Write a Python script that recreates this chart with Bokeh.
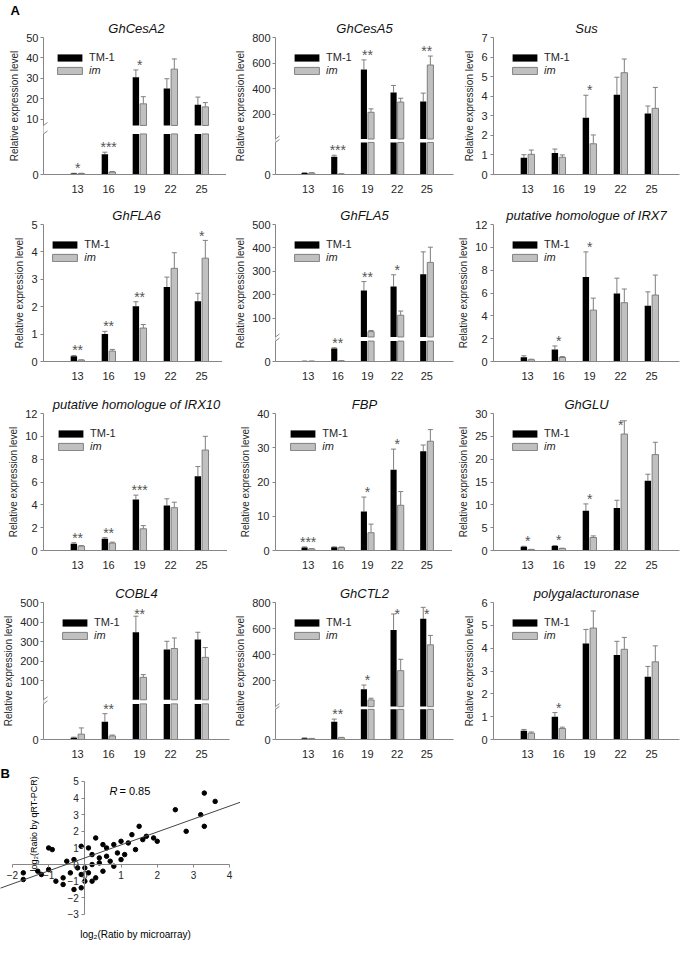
from bokeh.plotting import figure
from bokeh.models import (ColumnDataSource, Whisker, TeeHead, Legend, LegendItem, Label, Title,
                          Arrow, FixedTicker, SingleIntervalTicker, Range1d, Slope)
from bokeh.layouts import gridplot, column
from bokeh.core.properties import value
from bokeh.embed import file_html
from bokeh.resources import INLINE

FONT = "Liberation Sans"

# ---------------- data ----------------
days = [13, 16, 19, 22, 25]

cesa2_tm1 = [0.05, 1.0, 30.5, 25.0, 17.0]
cesa2_tm1_err = [0.01, 0.1, 3.6, 4.8, 3.8]
cesa2_im = [0.05, 0.12, 17.5, 34.5, 16.0]
cesa2_im_err = [0.01, 0.03, 3.5, 5.0, 2.1]
cesa2_sig = ["*", "***", "*", "", ""]

cesa5_tm1 = [0.08, 1.0, 550, 370, 300]
cesa5_tm1_err = [0.02, 0.08, 75, 55, 65]
cesa5_im = [0.08, 0.03, 215, 295, 585]
cesa5_im_err = [0.02, 0.01, 27, 30, 70]
cesa5_sig = ["", "***", "**", "", "**"]

sus_tm1 = [0.85, 1.1, 2.9, 4.07, 3.12]
sus_tm1_err = [0.16, 0.2, 1.15, 0.9, 0.38]
sus_im = [1.03, 0.88, 1.57, 5.2, 3.38]
sus_im_err = [0.22, 0.12, 0.45, 0.7, 1.07]
sus_sig = ["", "", "*", "", ""]

fla6_tm1 = [0.19, 1.0, 2.02, 2.72, 2.2]
fla6_tm1_err = [0.03, 0.1, 0.16, 0.36, 0.29]
fla6_im = [0.05, 0.38, 1.22, 3.4, 3.77]
fla6_im_err = [0.01, 0.06, 0.13, 0.57, 0.65]
fla6_sig = ["**", "**", "**", "", "*"]

fla5_tm1 = [0.03, 1.0, 218, 235, 287]
fla5_tm1_err = [0.01, 0.05, 38, 50, 96]
fla5_im = [0.02, 0.05, 42, 112, 338]
fla5_im_err = [0.01, 0.01, 5, 18, 65]
fla5_sig = ["", "**", "**", "*", ""]

irx7_tm1 = [0.38, 1.06, 7.4, 5.95, 4.88]
irx7_tm1_err = [0.12, 0.3, 2.2, 1.35, 1.22]
irx7_im = [0.15, 0.35, 4.5, 5.15, 5.82]
irx7_im_err = [0.05, 0.08, 1.05, 1.2, 1.75]
irx7_sig = ["", "*", "*", "", ""]

irx10_tm1 = [0.6, 1.02, 4.47, 3.95, 6.5]
irx10_tm1_err = [0.08, 0.1, 0.38, 0.58, 0.85]
irx10_im = [0.38, 0.65, 1.9, 3.75, 8.8]
irx10_im_err = [0.05, 0.08, 0.28, 0.48, 1.2]
irx10_sig = ["**", "**", "***", "", ""]

fbp_tm1 = [0.9, 0.95, 11.4, 23.6, 29.0]
fbp_tm1_err = [0.15, 0.12, 4.2, 6.0, 1.8]
fbp_im = [0.45, 0.85, 5.2, 13.2, 31.9]
fbp_im_err = [0.1, 0.15, 2.5, 4.0, 3.4]
fbp_sig = ["***", "", "*", "*", ""]

glu_tm1 = [0.8, 1.0, 8.7, 9.3, 15.3]
glu_tm1_err = [0.12, 0.1, 1.5, 1.7, 1.4]
glu_im = [0.2, 0.42, 2.85, 25.5, 21.0]
glu_im_err = [0.05, 0.08, 0.35, 2.9, 2.7]
glu_sig = ["*", "*", "*", "*", ""]

cobl4_tm1 = [0.1, 1.0, 348, 260, 311]
cobl4_tm1_err = [0.03, 0.45, 82, 42, 37]
cobl4_im = [0.3, 0.2, 118, 265, 220]
cobl4_im_err = [0.35, 0.05, 14, 54, 50]
cobl4_sig = ["", "**", "**", "", ""]

ctl2_tm1 = [0.07, 1.0, 135, 590, 675]
ctl2_tm1_err = [0.02, 0.15, 33, 122, 88]
ctl2_im = [0.05, 0.1, 54, 278, 476]
ctl2_im_err = [0.01, 0.02, 13, 87, 72]
ctl2_sig = ["", "**", "*", "*", "*"]

pg_tm1 = [0.38, 1.0, 4.2, 3.7, 2.75]
pg_tm1_err = [0.06, 0.18, 0.62, 0.6, 0.45]
pg_im = [0.28, 0.48, 4.88, 3.95, 3.4]
pg_im_err = [0.05, 0.06, 0.75, 0.52, 0.7]
pg_sig = ["", "*", "", "", ""]

# panel B: log2 ratios
scat_x = [3.3, 3.6, 3.2, 3.3, 2.5, 2.0, 1.5, 1.3, 1.9, 1.6, 1.7, 1.2, 1.0, 0.8, 0.6, 0.5,
          0.3, 0.1, -0.1, 0.2, 0.6, 0.9, 1.1, 1.4, 0.7, 0.4, 0.2, 0.0, -0.2, -0.3, -0.5,
          -0.4, -0.1, 0.1, 0.3, -0.6, -0.8, -1.0, -1.3, -1.7, -1.2, -0.6, -0.3, -0.1, 0.2,
          0.0, -1.0, -0.9, -1.7, 0.5, 0.8, 1.0, 0.4, 2.8]
scat_y = [4.3, 3.8, 3.0, 2.3, 3.3, 1.4, 2.3, 1.8, 1.6, 1.5, 1.7, 1.3, 1.4, 1.2, 1.0, 1.2,
          1.6, 1.0, 1.1, 0.6, 0.5, 0.7, 0.6, 0.9, 0.2, 0.1, 0.0, -0.2, -0.2, 0.3, 0.2,
          -0.5, -0.6, -0.5, -0.8, -0.8, -1.0, -0.3, -0.4, -0.5, -0.6, -1.2, -1.5, -1.4, -1.0,
          -1.0, 1.0, 0.9, -0.9, -0.4, -0.1, 0.3, 0.4, 2.0]
fit_slope = 0.78
fit_intercept = 0.4
r_text = "= 0.85"

# ---------------- styling / layout ----------------
GRAY_FILL = "#c0c0c0"
GRAY_LINE = "#7f7f7f"
AXIS_C = "#868686"
TXT = "#262626"
X_START, X_END = 9.7, 27.7
BAR_W = 0.62
OFF = 0.36
FW = [186, 178, 186]
BL = [33, 40, 36]
BR = [3, 2, 3]
FH = [137, 137, 137, 137]
BT = [33, 26, 28, 28]
BB = 24
STAR_GAP = 5


def style_axes(p):
    for ax in (p.xaxis[0], p.yaxis[0]):
        ax.axis_line_color = AXIS_C
        ax.major_tick_line_color = AXIS_C
        ax.minor_tick_line_color = None
        ax.major_label_text_font = FONT
        ax.major_label_text_font_size = "11px"
        ax.major_label_text_color = TXT
        ax.axis_label_text_font = FONT
        ax.axis_label_text_font_size = "10px"
        ax.axis_label_text_font_style = "normal"
        ax.axis_label_text_color = TXT
    p.xgrid.grid_line_color = None
    p.ygrid.grid_line_color = None
    p.outline_line_color = None


def panel(title, tm1, tm1_err, im, im_err, sig, col, row, top=None, step=None, brk=None,
          letter=None):
    fw, fh = FW[col], FH[row]
    if brk is None:
        span = top
        yr = Range1d(0, top)

        def tf(v):
            return v
    else:
        span = 1.0
        yr = Range1d(0, 1)
        k = (1 - brk["d_tick0"]) / (brk["top"] - brk["tick0"])

        def up(v):
            return brk["d_tick0"] + (v - brk["tick0"]) * k

        def tf(v):
            if v <= brk["low_max"]:
                return v / brk["low_max"] * brk["low_top"]
            return up(v)

    ppx = span / fh
    p = figure(frame_width=fw, frame_height=fh, x_range=Range1d(X_START, X_END), y_range=yr,
               toolbar_location=None, output_backend="svg", title=None,
               min_border_left=BL[col], min_border_right=BR[col],
               min_border_top=BT[row], min_border_bottom=BB)
    p.add_layout(Title(text=title, text_font=FONT, text_font_size="13px",
                       text_font_style="italic", align="center", standoff=3,
                       text_color="#111111"), "above")
    if letter is not None:
        p.add_layout(Title(text=letter, text_font=FONT, text_font_size="13px",
                           text_font_style="bold", align="left", offset=-BL[col],
                           standoff=0, text_color="black"), "above")
    style_axes(p)

    p.xaxis.ticker = FixedTicker(ticks=days)
    p.xaxis.major_tick_line_color = None
    p.xaxis.major_label_standoff = 4
    p.yaxis.major_tick_out = 3
    p.yaxis.major_tick_in = 0
    p.yaxis.major_label_standoff = 2
    p.yaxis.axis_label_standoff = 3
    p.yaxis.axis_label = "Relative expression level"

    if brk is None:
        p.yaxis.ticker = SingleIntervalTicker(interval=step)
    else:
        ups = list(range(brk["tick0"], brk["top"] + 1, brk["step"]))
        ticks = [0.0] + [up(t) for t in ups]
        p.yaxis.ticker = FixedTicker(ticks=ticks)
        overrides = {0.0: "0"}
        for t in ups:
            overrides[up(t)] = str(t)
        p.yaxis.major_label_overrides = overrides

    renderers = []
    for vals, errs, dx, fill, line in ((tm1, tm1_err, -OFF, "black", None),
                                       (im, im_err, OFF, GRAY_FILL, GRAY_LINE)):
        xs = [d + dx for d in days]
        if brk is None:
            src = ColumnDataSource(dict(x=xs, bottom=[0] * len(vals), top=vals))
            r = p.vbar(x="x", bottom="bottom", top="top", width=BAR_W, source=src,
                       fill_color=fill, line_color=line, line_width=1)
        else:
            lows = [tf(v) if v <= brk["low_max"] else brk["low_top"] for v in vals]
            src = ColumnDataSource(dict(x=xs, bottom=[0] * len(vals), top=lows))
            r = p.vbar(x="x", bottom="bottom", top="top", width=BAR_W, source=src,
                       fill_color=fill, line_color=line, line_width=1)
            idx = [i for i, v in enumerate(vals) if v > brk["low_max"]]
            usrc = ColumnDataSource(dict(x=[xs[i] for i in idx],
                                         bottom=[brk["up_bot"]] * len(idx),
                                         top=[up(vals[i]) for i in idx]))
            p.vbar(x="x", bottom="bottom", top="top", width=BAR_W, source=usrc,
                   fill_color=fill, line_color=line, line_width=1)
        renderers.append(r)
        wsrc = ColumnDataSource(dict(base=xs, lower=[tf(v) for v in vals],
                                     upper=[tf(v + e) for v, e in zip(vals, errs)]))
        w = Whisker(source=wsrc, base="base", lower="lower", upper="upper", dimension="height",
                    line_color=GRAY_LINE, line_width=1, lower_head=None,
                    upper_head=TeeHead(size=5, line_color=GRAY_LINE, line_width=1))
        p.add_layout(w)

    # significance marks: just above the higher error bar, kept inside the frame
    sy = [min(max(tf(a + ea), tf(b + eb)) + STAR_GAP * ppx, span - 11 * ppx)
          for a, ea, b, eb in zip(tm1, tm1_err, im, im_err)]
    ssrc = ColumnDataSource(dict(x=days, y=sy, t=sig))
    p.text(x="x", y="y", text="t", source=ssrc, text_align="center",
           text_baseline="alphabetic", text_font=value(FONT), text_font_size=value("14px"),
           text_color="#555555")

    if brk is not None:
        xpx = (X_END - X_START) / fw
        p.add_layout(Arrow(end=None, x_start=X_START, x_end=X_START,
                           y_start=brk["low_top"], y_end=brk["up_bot"],
                           line_color="white", line_width=3))
        for yc in (brk["low_top"], brk["up_bot"]):
            p.add_layout(Arrow(end=None, x_start=X_START - 4 * xpx, y_start=yc - 3 * ppx,
                               x_end=X_START + 4 * xpx, y_end=yc + 3 * ppx,
                               line_color=AXIS_C, line_width=1))

    leg_common = dict(padding=0, margin=0, spacing=0, border_line_color=None,
                      background_fill_alpha=0, glyph_width=31, glyph_height=9,
                      label_height=12, label_standoff=4, label_text_font=FONT,
                      label_text_font_size="11px", label_text_color=TXT)
    l1 = Legend(items=[LegendItem(label="TM-1", renderers=[renderers[0]])],
                location=(16, fh - 26), **leg_common)
    l2 = Legend(items=[LegendItem(label="im", renderers=[renderers[1]])],
                location=(16, fh - 39), label_text_font_style="italic", **leg_common)
    p.add_layout(l1)
    p.add_layout(l2)
    return p


p1 = panel("GhCesA2", cesa2_tm1, cesa2_tm1_err, cesa2_im, cesa2_im_err, cesa2_sig, 0, 0,
           brk=dict(top=50, tick0=10, step=10, d_tick0=0.404, up_bot=0.358, low_top=0.296,
                    low_max=2.0), letter="A")
p2 = panel("GhCesA5", cesa5_tm1, cesa5_tm1_err, cesa5_im, cesa5_im_err, cesa5_sig, 1, 0,
           brk=dict(top=800, tick0=200, step=200, d_tick0=0.44, up_bot=0.259, low_top=0.234,
                    low_max=1.8))
p3 = panel("Sus", sus_tm1, sus_tm1_err, sus_im, sus_im_err, sus_sig, 2, 0, top=7, step=1)
p4 = panel("GhFLA6", fla6_tm1, fla6_tm1_err, fla6_im, fla6_im_err, fla6_sig, 0, 1, top=5, step=1)
p5 = panel("GhFLA5", fla5_tm1, fla5_tm1_err, fla5_im, fla5_im_err, fla5_sig, 1, 1,
           brk=dict(top=500, tick0=100, step=100, d_tick0=0.317, up_bot=0.179, low_top=0.149,
                    low_max=1.56))
p6 = panel("putative homologue of IRX7", irx7_tm1, irx7_tm1_err, irx7_im, irx7_im_err, irx7_sig,
           2, 1, top=12, step=2)
p7 = panel("putative homologue of IRX10", irx10_tm1, irx10_tm1_err, irx10_im, irx10_im_err,
           irx10_sig, 0, 2, top=12, step=2)
p8 = panel("FBP", fbp_tm1, fbp_tm1_err, fbp_im, fbp_im_err, fbp_sig, 1, 2, top=40, step=10)
p9 = panel("GhGLU", glu_tm1, glu_tm1_err, glu_im, glu_im_err, glu_sig, 2, 2, top=30, step=5)
p10 = panel("COBL4", cobl4_tm1, cobl4_tm1_err, cobl4_im, cobl4_im_err, cobl4_sig, 0, 3,
            brk=dict(top=500, tick0=100, step=100, d_tick0=0.428, up_bot=0.29, low_top=0.26,
                     low_max=2.0))
p11 = panel("GhCTL2", ctl2_tm1, ctl2_tm1_err, ctl2_im, ctl2_im_err, ctl2_sig, 1, 3,
            brk=dict(top=800, tick0=200, step=200, d_tick0=0.428, up_bot=0.24, low_top=0.22,
                     low_max=1.7))
p12 = panel("polygalacturonase", pg_tm1, pg_tm1_err, pg_im, pg_im_err, pg_sig, 2, 3, top=6, step=1)

# ---------------- panel B ----------------
SFW, SFH = 240, 181
SY0, SY1 = -4.81, 6.08
SX0, SX1 = -2.33, 4.3
ps = figure(frame_width=SFW, frame_height=SFH, x_range=Range1d(SX0, SX1),
            y_range=Range1d(SY0, SY1), toolbar_location=None, output_backend="svg",
            min_border=0, min_border_left=0, min_border_right=0, min_border_top=0,
            min_border_bottom=0)
style_axes(ps)
for ax in (ps.xaxis[0], ps.yaxis[0]):
    ax.fixed_location = 0
    ax.ticker = SingleIntervalTicker(interval=1)
    ax.major_tick_out = 3
    ax.major_tick_in = 0
    ax.major_label_standoff = 2
    ax.major_label_text_font_size = "10px"
ps.xaxis.bounds = (-2, 4)
ps.yaxis.bounds = (-3, 5)
ps.add_layout(Slope(gradient=fit_slope, y_intercept=fit_intercept, line_color="#444444",
                    line_width=1))
ps.scatter(x=scat_x, y=scat_y, size=4.5, marker="circle", fill_color="black", line_color="black")
ps.add_layout(Label(x=0.68, y=4.45, text="R", text_font=FONT, text_font_size="11px",
                    text_font_style="italic", text_baseline="middle", text_color="black"))
ps.add_layout(Label(x=0.68, y=4.45, x_offset=10, text=r_text, text_font=FONT,
                    text_font_size="11px", text_baseline="middle", text_color="black"))
ps.add_layout(Label(x=-1.4, y=2.45, text="log\u2082(Ratio by qRT-PCR)", angle=90,
                    angle_units="deg", text_font=FONT, text_font_size="9px",
                    text_align="center", text_baseline="middle", text_color="black"))
ps.add_layout(Label(x=1.4, y=-4.2, text="log\u2082(Ratio by microarray)",
                    text_font=FONT, text_font_size="10px", text_align="center",
                    text_baseline="middle", text_color="black"))
ps.add_layout(Label(x=0, y=SFH - 10, x_units="screen", y_units="screen", text="B",
                    text_font=FONT, text_font_size="13px", text_font_style="bold",
                    text_baseline="middle", text_align="left", text_color="black"))

grid = gridplot([[p1, p2, p3], [p4, p5, p6], [p7, p8, p9], [p10, p11, p12]],
                toolbar_location=None)
layout = column(grid, ps)

open("out.html", "w").write(file_html(layout, INLINE, "Expression"))
